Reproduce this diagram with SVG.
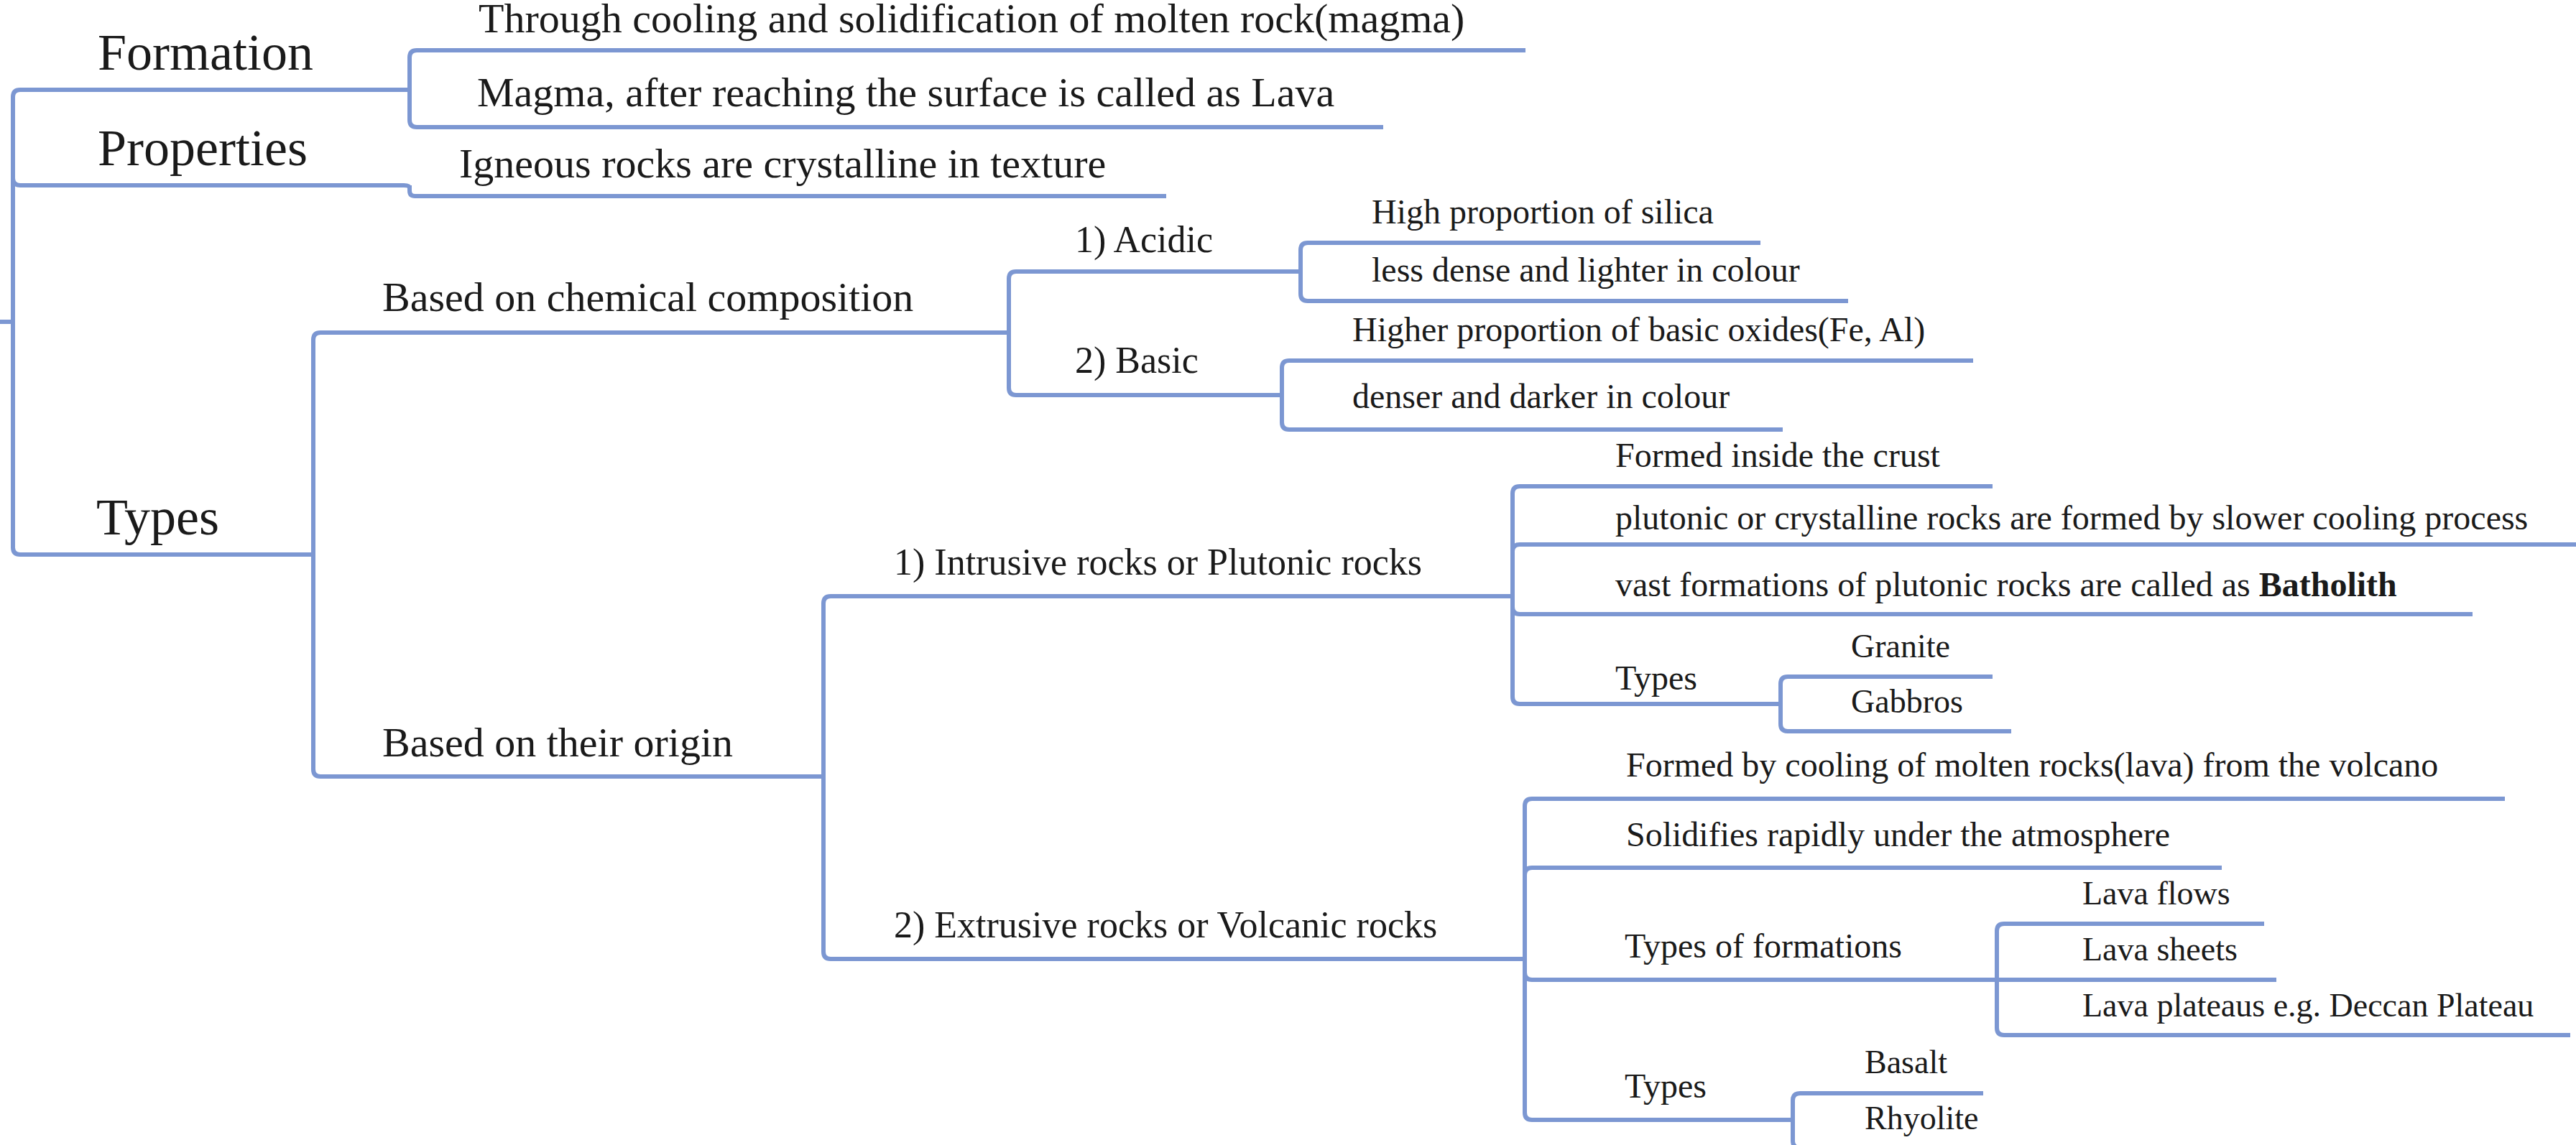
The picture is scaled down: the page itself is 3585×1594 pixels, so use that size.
<svg xmlns="http://www.w3.org/2000/svg" width="3585" height="1594" viewBox="0 0 3585 1594">
<style>
text{font-family:"Liberation Serif","Times New Roman",serif;fill:#1a1a1a}
.l1{font-size:72px}.l2{font-size:58px}.l3{font-size:52px}.l4{font-size:48px}.l5{font-size:46px}
.u{stroke:#7c97d2;stroke-width:6;fill:none;stroke-linecap:butt}
.c{stroke:#7c97d2;stroke-width:6;fill:none;stroke-linecap:butt}
</style>
<rect width="3585" height="1594" fill="#ffffff"/>
<g id="connectors">
<path class="c" d="M0 448H18"/>
<path class="c" d="M18 448V135Q18 125 28 125M18 448V248Q18 258 28 258M18 448V762Q18 772 28 772"/>
<path class="c" d="M570 125V80Q570 70 580 70M570 125V167Q570 177 580 177"/>
<path class="c" d="M570 258V265.5Q570 273 577.5 273"/>
<path class="c" d="M436 772V473Q436 463 446 463M436 772V1071Q436 1081 446 1081"/>
<path class="c" d="M1404 463V388Q1404 378 1414 378M1404 463V540Q1404 550 1414 550"/>
<path class="c" d="M1810 378V348Q1810 338 1820 338M1810 378V409Q1810 419 1820 419"/>
<path class="c" d="M1784 550V512Q1784 502 1794 502M1784 550V588Q1784 598 1794 598"/>
<path class="c" d="M1146 1081V840Q1146 830 1156 830M1146 1081V1325Q1146 1335 1156 1335"/>
<path class="c" d="M2105 830V687Q2105 677 2115 677M2105 830V768Q2105 758 2115 758M2105 830V845Q2105 855 2115 855M2105 830V970Q2105 980 2115 980"/>
<path class="c" d="M2478 980V952Q2478 942 2488 942M2478 980V1008Q2478 1018 2488 1018"/>
<path class="c" d="M2122 1335V1122Q2122 1112 2132 1112M2122 1335V1218Q2122 1208 2132 1208M2122 1335V1354Q2122 1364 2132 1364M2122 1335V1549Q2122 1559 2132 1559"/>
<path class="c" d="M2779 1364V1296Q2779 1286 2789 1286M2779 1364H2789M2779 1364V1431Q2779 1441 2789 1441"/>
<path class="c" d="M2495 1559V1532Q2495 1522 2505 1522M2495 1559V1588Q2495 1598 2505 1598"/>
</g>
<g id="n-formation"><path class="u" d="M28 125H570"/><text class="l1" x="136" y="97">Formation</text></g>
<g id="n-properties"><path class="u" d="M28 258H562Q570 258 570 262"/><text class="l1" x="136" y="230">Properties</text></g>
<g id="n-types"><path class="u" d="M28 772H436"/><text class="l1" x="134" y="744">Types</text></g>
<g id="n-through"><path class="u" d="M580 70H2123"/><text class="l2" x="666" y="45">Through cooling and solidification of molten rock(magma)</text></g>
<g id="n-magma"><path class="u" d="M580 177H1925"/><text class="l2" x="664" y="148">Magma, after reaching the surface is called as Lava</text></g>
<g id="n-igneous"><path class="u" d="M577 273H1623"/><text class="l2" x="639" y="247">Igneous rocks are crystalline in texture</text></g>
<g id="n-chem"><path class="u" d="M446 463H1404"/><text class="l2" x="532" y="433">Based on chemical composition</text></g>
<g id="n-origin"><path class="u" d="M446 1081H1146"/><text class="l2" x="532" y="1053">Based on their origin</text></g>
<g id="n-acidic"><path class="u" d="M1414 378H1810"/><text class="l3" x="1496" y="351">1) Acidic</text></g>
<g id="n-basic"><path class="u" d="M1414 550H1784"/><text class="l3" x="1496" y="519">2) Basic</text></g>
<g id="n-silica"><path class="u" d="M1820 338H2450"/><text class="l4" x="1909" y="311">High proportion of silica</text></g>
<g id="n-lessdense"><path class="u" d="M1820 419H2572"/><text class="l4" x="1909" y="392">less dense and lighter in colour</text></g>
<g id="n-oxides"><path class="u" d="M1794 502H2746"/><text class="l4" x="1882" y="475">Higher proportion of basic oxides(Fe, Al)</text></g>
<g id="n-denser"><path class="u" d="M1794 598H2481"/><text class="l4" x="1882" y="568">denser and darker in colour</text></g>
<g id="n-intrusive"><path class="u" d="M1156 830H2105"/><text class="l3" x="1244" y="800">1) Intrusive rocks or Plutonic rocks</text></g>
<g id="n-extrusive"><path class="u" d="M1156 1335H2122"/><text class="l3" x="1244" y="1305">2) Extrusive rocks or Volcanic rocks</text></g>
<g id="n-crust"><path class="u" d="M2115 677H2773"/><text class="l4" x="2248" y="650">Formed inside the crust</text></g>
<g id="n-slower"><path class="u" d="M2115 758H3585"/><text class="l4" x="2248" y="737">plutonic or crystalline rocks are formed by slower cooling process</text></g>
<g id="n-batholith"><path class="u" d="M2115 855H3441"/><text class="l4" x="2248" y="830">vast formations of plutonic rocks are called as <tspan font-weight="bold">Batholith</tspan></text></g>
<g id="n-types-intrusive"><path class="u" d="M2115 980H2478"/><text class="l4" x="2248" y="960">Types</text></g>
<g id="n-granite"><path class="u" d="M2488 942H2773"/><text class="l5" x="2576" y="915">Granite</text></g>
<g id="n-gabbros"><path class="u" d="M2488 1018H2799"/><text class="l5" x="2576" y="992">Gabbros</text></g>
<g id="n-lava"><path class="u" d="M2132 1112H3486"/><text class="l4" x="2263" y="1081">Formed by cooling of molten rocks(lava) from the volcano</text></g>
<g id="n-solidifies"><path class="u" d="M2132 1208H3092"/><text class="l4" x="2263" y="1178">Solidifies rapidly under the atmosphere</text></g>
<g id="n-formations"><path class="u" d="M2132 1364H2779"/><text class="l4" x="2261" y="1333">Types of formations</text></g>
<g id="n-types-extrusive"><path class="u" d="M2132 1559H2495"/><text class="l4" x="2261" y="1528">Types</text></g>
<g id="n-flows"><path class="u" d="M2789 1286H3151"/><text class="l5" x="2898" y="1259">Lava flows</text></g>
<g id="n-sheets"><path class="u" d="M2789 1364H3168"/><text class="l5" x="2898" y="1337">Lava sheets</text></g>
<g id="n-plateaus"><path class="u" d="M2789 1441H3577"/><text class="l5" x="2898" y="1415">Lava plateaus e.g. Deccan Plateau</text></g>
<g id="n-basalt"><path class="u" d="M2505 1522H2760"/><text class="l5" x="2595" y="1494">Basalt</text></g>
<g id="n-rhyolite"><path class="u" d="M2505 1598H2760"/><text class="l5" x="2595" y="1572">Rhyolite</text></g>
</svg>
